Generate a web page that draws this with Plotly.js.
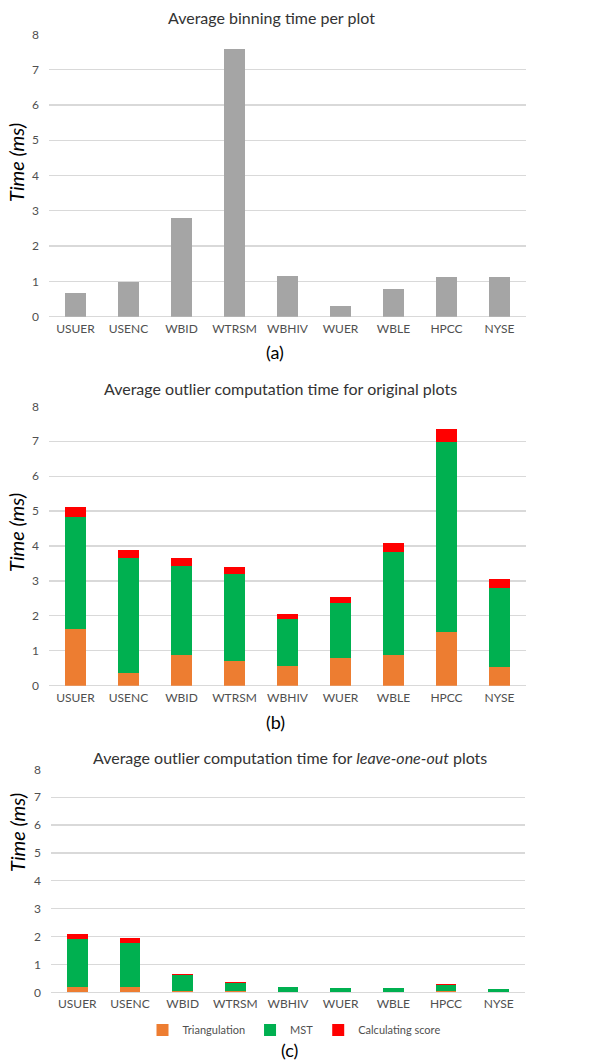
<!DOCTYPE html>
<html>
<head>
<meta charset="utf-8">
<script src="https://cdn.plot.ly/plotly-3.0.1.min.js"></script>
<style>html,body{margin:0;padding:0;background:#fff;}#chart{width:592px;height:1061px;}</style>
</head>
<body>
<div id="chart"></div>
<script>
const categories = ["USUER","USENC","WBID","WTRSM","WBHIV","WUER","WBLE","HPCC","NYSE"];
const binningTime = [0.66, 0.98, 2.79, 7.58, 1.15, 0.30, 0.78, 1.12, 1.12];

const origTriangulation = [1.62, 0.35, 0.88, 0.70, 0.57, 0.78, 0.89, 1.55, 0.53];
const origMST           = [3.21, 3.31, 2.54, 2.50, 1.33, 1.60, 2.93, 5.42, 2.27];
const origScore         = [0.29, 0.23, 0.23, 0.20, 0.15, 0.15, 0.27, 0.38, 0.25];

const looTriangulation = [0.19, 0.18, 0.05, 0.04, 0.01, 0.01, 0.01, 0.04, 0.01];
const looMST           = [1.71, 1.58, 0.56, 0.28, 0.17, 0.13, 0.13, 0.22, 0.10];
const looScore         = [0.18, 0.18, 0.06, 0.05, 0.02, 0.03, 0.03, 0.04, 0.02];

const seriesNames = ["Triangulation","MST","Calculating score"];
const yTicks = [0,1,2,3,4,5,6,7,8];

const W = 592, H = 1061;
const colors = {gray:"#a5a5a5", orange:"#ed7d31", green:"#00b050", red:"#ff0000"};
const FONT = "Lato, 'Noto Sans', sans-serif";
const py = v => 1 - v / H;
const px = v => v / W;

const traces = [
  {type:"bar", x:categories, y:binningTime, xaxis:"x", yaxis:"y", marker:{color:colors.gray}, showlegend:false, name:"Binning"},
  {type:"bar", x:categories, y:origTriangulation, xaxis:"x2", yaxis:"y2", marker:{color:colors.orange}, showlegend:false, name:seriesNames[0]},
  {type:"bar", x:categories, y:origMST, xaxis:"x2", yaxis:"y2", marker:{color:colors.green}, showlegend:false, name:seriesNames[1]},
  {type:"bar", x:categories, y:origScore, xaxis:"x2", yaxis:"y2", marker:{color:colors.red}, showlegend:false, name:seriesNames[2]},
  {type:"bar", x:categories, y:looTriangulation, xaxis:"x3", yaxis:"y3", marker:{color:colors.orange}, name:seriesNames[0]},
  {type:"bar", x:categories, y:looMST, xaxis:"x3", yaxis:"y3", marker:{color:colors.green}, name:seriesNames[1]},
  {type:"bar", x:categories, y:looScore, xaxis:"x3", yaxis:"y3", marker:{color:colors.red}, name:seriesNames[2]}
];

function xa(d){ return {domain:d, type:"category", showgrid:false, zeroline:false, showline:false, ticks:"", tickfont:{family:FONT, size:12, color:"#505050"}, fixedrange:true, ticklabelstandoff:3}; }
function ya(d, anchor){ return {domain:d, anchor:anchor, range:[0,8], tickvals:yTicks, showgrid:true, gridcolor:"#d9d9d9", gridwidth:1.3, zeroline:true, zerolinecolor:"#d9d9d9", zerolinewidth:1.3, showline:false, ticks:"", tickfont:{family:FONT, size:12, color:"#505050"}, fixedrange:true, ticklabelstandoff:9}; }

const annFont = (s, c) => ({family:FONT, size:s, color:c||"#333333"});
const annotations = [
  {text:"Average binning time per plot", x:px(271), y:py(17), xref:"paper", yref:"paper", showarrow:false, font:annFont(16), xanchor:"center", yanchor:"middle"},
  {text:"Average outlier computation time for original plots", x:px(280), y:py(388), xref:"paper", yref:"paper", showarrow:false, font:annFont(16), xanchor:"center", yanchor:"middle"},
  {text:"Average outlier computation time for <i>leave-one-out</i> plots", x:px(290), y:py(757), xref:"paper", yref:"paper", showarrow:false, font:annFont(16), xanchor:"center", yanchor:"middle"},
  {text:"(a)", x:px(275), y:py(352), xref:"paper", yref:"paper", showarrow:false, font:annFont(18,"#000"), xanchor:"center", yanchor:"middle"},
  {text:"(b)", x:px(275), y:py(722), xref:"paper", yref:"paper", showarrow:false, font:annFont(18,"#000"), xanchor:"center", yanchor:"middle"},
  {text:"(c)", x:px(289), y:py(1050), xref:"paper", yref:"paper", showarrow:false, font:annFont(18,"#000"), xanchor:"center", yanchor:"middle"},
  {text:"<i>Time (ms)</i>", x:px(16), y:py(163), xref:"paper", yref:"paper", showarrow:false, textangle:-90, font:annFont(20,"#000"), xanchor:"center", yanchor:"middle"},
  {text:"<i>Time (ms)</i>", x:px(16), y:py(533), xref:"paper", yref:"paper", showarrow:false, textangle:-90, font:annFont(20,"#000"), xanchor:"center", yanchor:"middle"},
  {text:"<i>Time (ms)</i>", x:px(17), y:py(833), xref:"paper", yref:"paper", showarrow:false, textangle:-90, font:annFont(20,"#000"), xanchor:"center", yanchor:"middle"}
];

const layout = {
  width:W, height:H,
  margin:{l:0, r:0, t:0, b:0},
  paper_bgcolor:"#fff", plot_bgcolor:"#fff",
  barmode:"stack", bargap:0.61,
  font:{family:FONT},
  xaxis: Object.assign(xa([px(49), px(526)]), {anchor:"y"}),
  yaxis: ya([py(316.7), py(34.3)], "x"),
  xaxis2: Object.assign(xa([px(49), px(526)]), {anchor:"y2"}),
  yaxis2: ya([py(685.7), py(406.3)], "x2"),
  xaxis3: Object.assign(xa([px(51), px(525)]), {anchor:"y3"}),
  yaxis3: ya([py(992.3), py(769.3)], "x3"),
  legend:{orientation:"h", x:px(294), y:py(1030), xanchor:"center", yanchor:"middle", font:{family:FONT, size:11, color:"#505050"}, itemwidth:30, tracegroupgap:0, traceorder:"normal", bgcolor:"rgba(0,0,0,0)"},
  annotations:annotations,
  showlegend:true
};

Plotly.newPlot("chart", traces, layout, {displayModeBar:false, staticPlot:true});
</script>
</body>
</html>
